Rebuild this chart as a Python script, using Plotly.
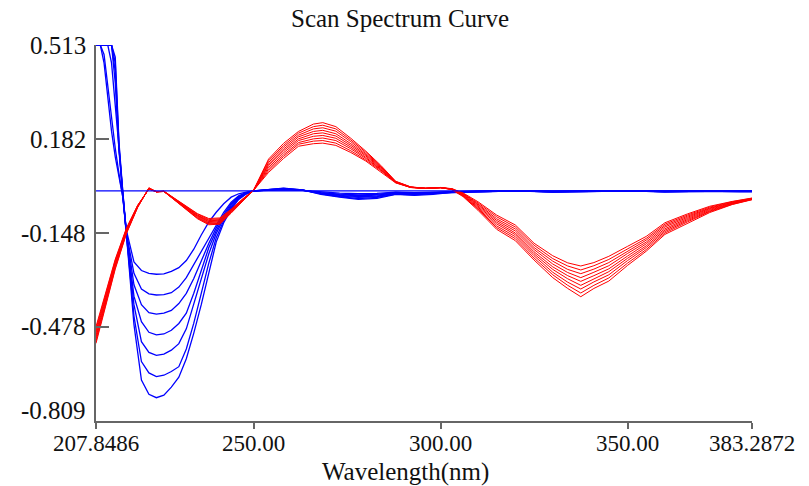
import plotly.graph_objects as go

# ---------------- data ----------------
blue_nm = [207.8486, 209, 210, 211, 212, 213, 214, 215, 216, 218, 220, 222, 224, 226, 228, 230,
           232, 234, 236, 238, 240, 242, 244, 246, 248, 250,
           254, 258, 263, 268, 273, 278, 283, 288, 293, 298, 303, 310, 320, 330, 340, 350,
           360, 370, 380, 383.2872]

blue_1 = [0.513, 0.513, 0.45, 0.33, 0.21, 0.12, 0.05, -0.02, -0.14,
          -0.25, -0.28, -0.29, -0.293, -0.292, -0.283, -0.27,
          -0.245, -0.205, -0.155, -0.11, -0.075, -0.045, -0.022, -0.01, -0.004, 0.0,
          0.002, 0.004, 0.002, -0.004, -0.008, -0.010, -0.009, -0.004, -0.006, -0.004,
          -0.002, -0.001, 0.0, -0.001, 0.0, 0.0, -0.001, 0.0, -0.001, -0.001]
blue_2 = [0.513, 0.513, 0.48, 0.37, 0.25, 0.15, 0.06, -0.02, -0.15,
          -0.29, -0.345, -0.362, -0.366, -0.365, -0.358, -0.338,
          -0.305, -0.26, -0.214, -0.17, -0.12, -0.075, -0.04, -0.017, -0.006, 0.0,
          0.003, 0.005, 0.002, -0.006, -0.011, -0.014, -0.012, -0.005, -0.008, -0.006,
          -0.002, -0.001, 0.0, -0.002, -0.001, 0.0, -0.001, -0.001, -0.001, -0.001]
blue_3 = [0.513, 0.513, 0.513, 0.513, 0.45, 0.30, 0.12, -0.01, -0.15,
          -0.33, -0.40, -0.428, -0.433, -0.43, -0.42, -0.396,
          -0.36, -0.308, -0.245, -0.185, -0.13, -0.083, -0.045, -0.02, -0.007, 0.0,
          0.003, 0.006, 0.003, -0.007, -0.013, -0.017, -0.015, -0.007, -0.009, -0.007,
          -0.003, -0.002, 0.0, -0.002, -0.001, 0.0, -0.002, -0.001, -0.001, -0.001]
blue_4 = [0.513, 0.513, 0.513, 0.513, 0.513, 0.38, 0.14, -0.01, -0.15,
          -0.37, -0.46, -0.497, -0.506, -0.503, -0.49, -0.466,
          -0.43, -0.36, -0.282, -0.2, -0.14, -0.09, -0.05, -0.022, -0.008, 0.0,
          0.003, 0.007, 0.003, -0.008, -0.016, -0.020, -0.018, -0.008, -0.011, -0.008,
          -0.003, -0.002, 0.0, -0.003, -0.001, 0.0, -0.002, -0.001, -0.001, -0.001]
blue_5 = [0.513, 0.513, 0.513, 0.513, 0.513, 0.42, 0.15, -0.01, -0.16,
          -0.40, -0.53, -0.568, -0.578, -0.574, -0.56, -0.537,
          -0.485, -0.397, -0.313, -0.222, -0.15, -0.097, -0.055, -0.025, -0.009, 0.0,
          0.004, 0.008, 0.003, -0.009, -0.018, -0.023, -0.020, -0.009, -0.012, -0.009,
          -0.004, -0.002, 0.0, -0.003, -0.002, 0.0, -0.002, -0.001, -0.002, -0.002]
blue_6 = [0.513, 0.513, 0.513, 0.513, 0.513, 0.45, 0.16, -0.01, -0.16,
          -0.44, -0.60, -0.64, -0.653, -0.648, -0.635, -0.618,
          -0.556, -0.465, -0.36, -0.255, -0.165, -0.105, -0.06, -0.028, -0.01, 0.0,
          0.004, 0.009, 0.004, -0.010, -0.020, -0.027, -0.023, -0.011, -0.014, -0.010,
          -0.004, -0.003, 0.0, -0.003, -0.002, 0.0, -0.003, -0.001, -0.002, -0.002]
blue_7 = [0.513, 0.513, 0.513, 0.513, 0.513, 0.47, 0.17, 0.0, -0.16,
          -0.47, -0.665, -0.715, -0.727, -0.718, -0.69, -0.655,
          -0.59, -0.5, -0.40, -0.29, -0.18, -0.112, -0.065, -0.03, -0.011, 0.0,
          0.004, 0.010, 0.004, -0.012, -0.022, -0.030, -0.026, -0.012, -0.016, -0.012,
          -0.005, -0.003, 0.0, -0.004, -0.002, 0.0, -0.003, -0.001, -0.002, -0.002]

baseline_nm = [207.8486, 383.2872]
baseline_val = [0.0, 0.0]

red_nm = [207.8486, 210, 213, 216, 219, 222, 224, 226, 229, 232, 235, 238, 241, 244, 247, 250,
          254, 258, 262, 266, 268.5, 272, 276, 280, 284, 288, 292, 296, 300, 303, 306, 310,
          315, 320, 325, 330, 334, 337.5, 341, 345, 350, 355, 360, 366, 372, 378, 383.2872]

red_1 = [-0.477, -0.380, -0.240, -0.130, -0.050, 0.006, -0.003, -0.001, -0.027, -0.055, -0.080, -0.097, -0.095, -0.064, -0.029, 0.002,
         0.065, 0.114, 0.157, 0.166, 0.168, 0.160, 0.135, 0.105, 0.068, 0.028, 0.012, 0.009, 0.011, 0.008, -0.007, -0.038,
         -0.085, -0.120, -0.184, -0.228, -0.253, -0.264, -0.252, -0.230, -0.195, -0.160, -0.112, -0.081, -0.054, -0.037, -0.025]
red_2 = [-0.484, -0.386, -0.244, -0.133, -0.051, 0.007, -0.003, -0.001, -0.028, -0.057, -0.082, -0.100, -0.098, -0.066, -0.030, 0.002,
         0.071, 0.121, 0.164, 0.175, 0.177, 0.168, 0.141, 0.109, 0.071, 0.029, 0.012, 0.009, 0.011, 0.008, -0.009, -0.042,
         -0.091, -0.127, -0.191, -0.238, -0.264, -0.278, -0.263, -0.241, -0.203, -0.167, -0.117, -0.085, -0.057, -0.038, -0.026]
red_3 = [-0.492, -0.393, -0.249, -0.135, -0.052, 0.007, -0.003, -0.001, -0.029, -0.058, -0.085, -0.103, -0.101, -0.068, -0.031, 0.002,
         0.077, 0.127, 0.170, 0.183, 0.186, 0.177, 0.148, 0.114, 0.074, 0.030, 0.012, 0.009, 0.011, 0.007, -0.010, -0.046,
         -0.098, -0.134, -0.199, -0.247, -0.276, -0.291, -0.275, -0.252, -0.212, -0.173, -0.122, -0.089, -0.060, -0.040, -0.027]
red_4 = [-0.499, -0.399, -0.253, -0.138, -0.053, 0.008, -0.003, -0.001, -0.030, -0.060, -0.087, -0.105, -0.103, -0.069, -0.032, 0.002,
         0.083, 0.134, 0.177, 0.192, 0.195, 0.185, 0.154, 0.118, 0.076, 0.030, 0.013, 0.009, 0.011, 0.007, -0.012, -0.049,
         -0.104, -0.141, -0.206, -0.257, -0.287, -0.305, -0.286, -0.263, -0.220, -0.180, -0.127, -0.093, -0.062, -0.041, -0.027]
red_5 = [-0.507, -0.405, -0.258, -0.140, -0.054, 0.008, -0.003, -0.002, -0.031, -0.062, -0.089, -0.108, -0.106, -0.071, -0.033, 0.003,
         0.089, 0.141, 0.183, 0.201, 0.204, 0.193, 0.160, 0.123, 0.079, 0.031, 0.013, 0.009, 0.012, 0.006, -0.014, -0.053,
         -0.110, -0.148, -0.214, -0.267, -0.298, -0.318, -0.298, -0.274, -0.229, -0.186, -0.133, -0.097, -0.065, -0.043, -0.028]
red_6 = [-0.514, -0.411, -0.262, -0.143, -0.055, 0.009, -0.003, -0.002, -0.032, -0.063, -0.091, -0.111, -0.109, -0.073, -0.033, 0.003,
         0.094, 0.147, 0.190, 0.209, 0.213, 0.201, 0.166, 0.127, 0.082, 0.032, 0.013, 0.009, 0.012, 0.006, -0.015, -0.057,
         -0.116, -0.154, -0.221, -0.276, -0.309, -0.332, -0.309, -0.284, -0.237, -0.193, -0.138, -0.101, -0.068, -0.044, -0.029]
red_7 = [-0.521, -0.418, -0.266, -0.145, -0.056, 0.010, -0.003, -0.002, -0.033, -0.065, -0.094, -0.114, -0.112, -0.075, -0.034, 0.003,
         0.100, 0.154, 0.196, 0.218, 0.222, 0.210, 0.173, 0.131, 0.085, 0.032, 0.013, 0.009, 0.012, 0.005, -0.017, -0.061,
         -0.123, -0.161, -0.228, -0.286, -0.321, -0.345, -0.320, -0.295, -0.245, -0.199, -0.143, -0.105, -0.071, -0.045, -0.030]
red_8 = [-0.529, -0.424, -0.271, -0.148, -0.057, 0.010, -0.003, -0.002, -0.034, -0.066, -0.096, -0.116, -0.114, -0.076, -0.035, 0.003,
         0.106, 0.160, 0.203, 0.226, 0.231, 0.218, 0.179, 0.136, 0.087, 0.033, 0.014, 0.009, 0.012, 0.005, -0.018, -0.064,
         -0.129, -0.168, -0.236, -0.295, -0.332, -0.359, -0.332, -0.306, -0.254, -0.206, -0.148, -0.109, -0.073, -0.047, -0.030]
red_9 = [-0.536, -0.430, -0.275, -0.150, -0.058, 0.011, -0.003, -0.002, -0.035, -0.068, -0.098, -0.119, -0.117, -0.078, -0.036, 0.003,
         0.112, 0.167, 0.209, 0.235, 0.240, 0.226, 0.185, 0.140, 0.090, 0.034, 0.014, 0.009, 0.012, 0.004, -0.020, -0.068,
         -0.135, -0.175, -0.243, -0.305, -0.343, -0.372, -0.343, -0.317, -0.262, -0.212, -0.153, -0.113, -0.076, -0.048, -0.031]

x_tickvals = [207.8486, 250.0, 300.0, 350.0, 383.2872]
x_ticktext = ["207.8486", "250.00", "300.00", "350.00", "383.2872"]
y_tickvals = [0.513, 0.182, -0.148, -0.478, -0.809]
y_ticktext = ["0.513", "0.182", "-0.148", "-0.478", "-0.809"]

title_text = "Scan Spectrum Curve"
xaxis_title = "Wavelength(nm)"

# ---------------- figure ----------------
FONT = "Liberation Serif, Times New Roman, serif"
fig = go.Figure()

for ys in [blue_1, blue_2, blue_3, blue_4, blue_5, blue_6, blue_7]:
    fig.add_trace(go.Scatter(x=blue_nm, y=ys, mode="lines",
                             line=dict(color="#0000FF", width=1.3), hoverinfo="skip"))
for ys in [red_1, red_2, red_3, red_4, red_5, red_6, red_7, red_8, red_9]:
    fig.add_trace(go.Scatter(x=red_nm, y=ys, mode="lines",
                             line=dict(color="#FF0000", width=1.0), hoverinfo="skip"))
fig.add_trace(go.Scatter(x=baseline_nm, y=baseline_val, mode="lines",
                         line=dict(color="#0000FF", width=1.2), hoverinfo="skip"))

# plot area in pixels: x 96..752, y 45..421
annotations = []
for i, (v, t) in enumerate(zip(y_tickvals, y_ticktext)):
    annotations.append(dict(x=0, xref="paper", y=v, yref="y", text=t, showarrow=False,
                            xanchor="right", yanchor="middle", xshift=-8,
                            yshift=11 if i == len(y_tickvals) - 1 else 0,
                            font=dict(family=FONT, size=25, color="#111111")))
annotations.append(dict(x=(405 - 96) / 656, xref="paper", y=-(472 - 421) / 376, yref="paper",
                        text=xaxis_title, showarrow=False, xanchor="center", yanchor="middle",
                        font=dict(family=FONT, size=25, color="#111111")))

fig.update_layout(
    width=809, height=486,
    margin=dict(l=96, r=57, t=45, b=65),
    paper_bgcolor="white", plot_bgcolor="white",
    showlegend=False,
    hovermode=False,
    title=dict(text=title_text, x=400 / 809, xanchor="center", xref="container",
               y=1 - 18 / 486, yanchor="middle", yref="container",
               font=dict(family=FONT, size=25, color="#111111")),
    annotations=annotations,
)
fig.update_xaxes(range=[207.8486, 383.2872], tickmode="array", tickvals=x_tickvals,
                 ticktext=x_ticktext, showgrid=False, zeroline=False,
                 showline=True, linecolor="#666666", linewidth=2,
                 ticks="outside", ticklen=6, tickwidth=2, tickcolor="#666666",
                 ticklabelstandoff=-6,
                 tickfont=dict(family=FONT, size=23, color="#111111"))
fig.update_yaxes(range=[-0.809, 0.513], tickmode="array", tickvals=y_tickvals,
                 showticklabels=False, showgrid=False, zeroline=False,
                 showline=True, linecolor="#666666", linewidth=2,
                 ticks="inside", ticklen=13, tickwidth=2, tickcolor="#666666")

fig.write_html("out.html")
